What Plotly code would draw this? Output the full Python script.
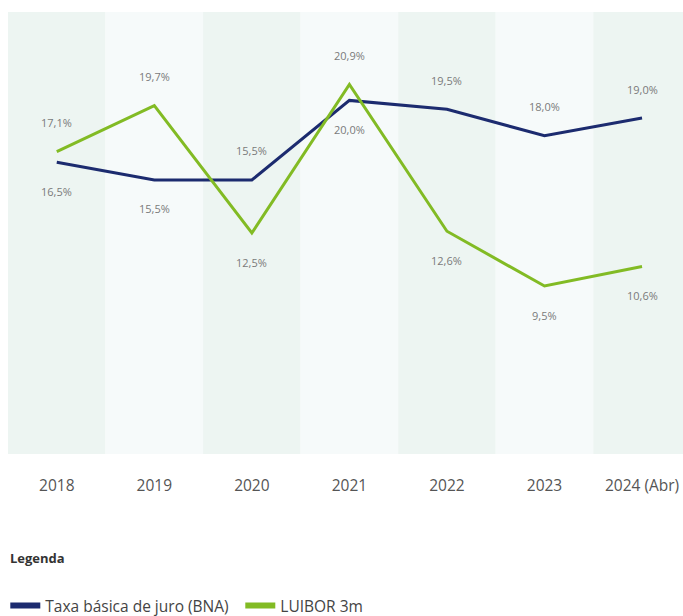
import plotly.graph_objects as go

# Categories and series (annual rates, %)
years = ["2018", "2019", "2020", "2021", "2022", "2023", "2024 (Abr)"]
bna_rate = [16.5, 15.5, 15.5, 20.0, 19.5, 18.0, 19.0]
luibor_3m = [17.1, 19.7, 12.5, 20.9, 12.6, 9.5, 10.6]

# Label placement per point: +1 above the line, -1 below
bna_label_side = [-1, -1, 1, -1, 1, 1, 1]
luibor_label_side = [1, 1, -1, 1, -1, -1, -1]

BLUE = "#1c2b6f"
GREEN = "#82bb24"
FONT = "Open Sans"

fig = go.Figure()

# Alternating column bands behind the lines
band_colors = ["#edf5f2", "#f6fafa"]
for i in range(len(years)):
    fig.add_shape(
        type="rect", xref="x", yref="paper",
        x0=i - 0.5, x1=i + 0.5, y0=0, y1=1,
        fillcolor=band_colors[i % 2], line_width=0, layer="below",
    )

fig.add_trace(go.Scatter(
    x=years, y=bna_rate, mode="lines", name="Taxa básica de juro (BNA)",
    line=dict(color=BLUE, width=3), showlegend=False, hoverinfo="skip",
))
fig.add_trace(go.Scatter(
    x=years, y=luibor_3m, mode="lines", name="LUIBOR 3m",
    line=dict(color=GREEN, width=3), showlegend=False, hoverinfo="skip",
))

# Legend entries with a thicker swatch
fig.add_trace(go.Scatter(
    x=[None], y=[None], mode="lines", name="Taxa básica de juro (BNA)",
    line=dict(color=BLUE, width=6),
))
fig.add_trace(go.Scatter(
    x=[None], y=[None], mode="lines", name="LUIBOR 3m",
    line=dict(color=GREEN, width=6),
))


def fmt(v):
    return f"{v:.1f}".replace(".", ",") + "%"


for series, sides in ((bna_rate, bna_label_side), (luibor_3m, luibor_label_side)):
    for i, (v, s) in enumerate(zip(series, sides)):
        fig.add_annotation(
            x=i, y=v, text=fmt(v), showarrow=False,
            yshift=29 * s, font=dict(family=FONT, size=11, color="#7a7a7a"),
        )

fig.add_annotation(
    xref="paper", yref="paper", x=0, y=-0.235, xanchor="left", yanchor="middle",
    text="<b>Legenda</b>", showarrow=False,
    font=dict(family=FONT, size=13, color="#333333"),
)

fig.update_layout(
    width=683, height=616,
    margin=dict(l=8, r=0, t=12, b=162, autoexpand=False),
    paper_bgcolor="white", plot_bgcolor="white",
    font=dict(family=FONT),
    xaxis=dict(
        type="category", range=[-0.5, 6.42], showgrid=False, zeroline=False,
        showline=False, ticks="", ticklabelstandoff=20,
        tickfont=dict(family=FONT, size=15.5, color="#555555"),
    ),
    yaxis=dict(range=[0, 25], visible=False, fixedrange=True),
    legend=dict(
        orientation="h", x=-0.004, xanchor="left", y=-0.344, yanchor="middle",
        font=dict(family=FONT, size=15.5, color="#444444"),
        bgcolor="rgba(0,0,0,0)", itemwidth=30, entrywidth=190,
    ),
)

fig.write_html("out.html")
